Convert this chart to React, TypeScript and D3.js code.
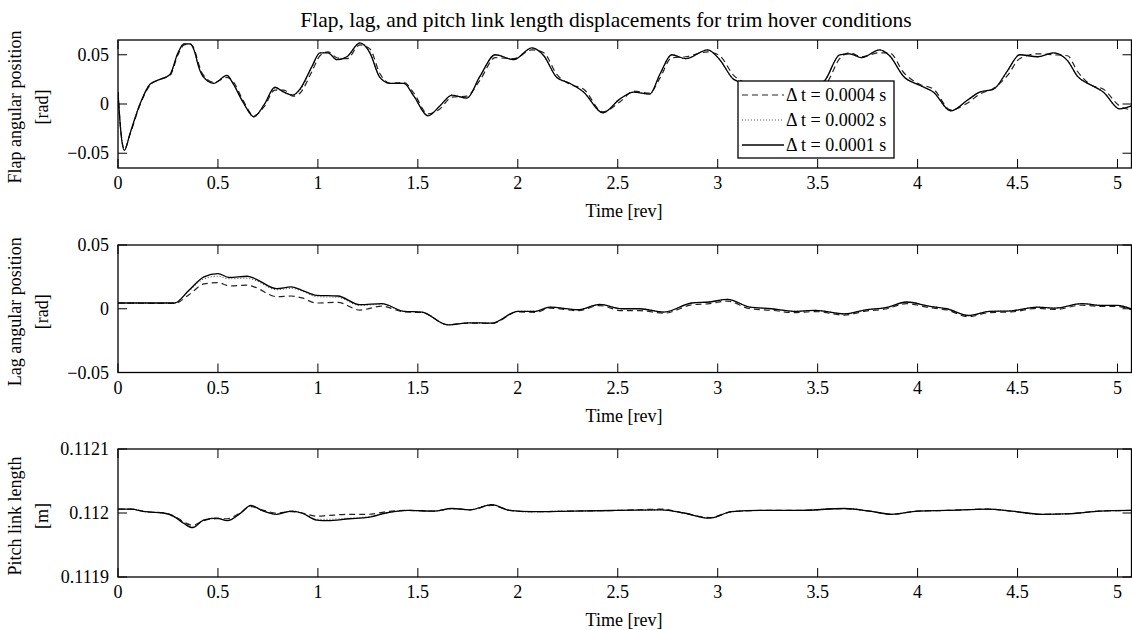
import React, { useRef, useEffect } from 'react';
import * as d3 from 'd3';

// time grids [rev]
const flapT = [0, 0.015, 0.032, 0.06, 0.11, 0.16, 0.21, 0.26, 0.3, 0.33, 0.36, 0.385, 0.4, 0.425, 0.48, 0.545, 0.575, 0.625, 0.68, 0.73, 0.785, 0.83, 0.875, 0.91, 0.97, 1.01, 1.05, 1.095, 1.145, 1.21, 1.26, 1.31, 1.36, 1.43, 1.48, 1.55, 1.61, 1.67, 1.745, 1.81, 1.887, 1.98, 2.07, 2.13, 2.195, 2.26, 2.33, 2.425, 2.51, 2.58, 2.66, 2.71, 2.77, 2.84, 2.95, 3.01, 3.08, 3.15, 3.22, 3.3, 3.38, 3.45, 3.54, 3.61, 3.66, 3.72, 3.81, 3.86, 3.93, 4.01, 4.08, 4.165, 4.25, 4.31, 4.38, 4.45, 4.51, 4.6, 4.68, 4.75, 4.8, 4.87, 4.93, 5.01, 5.07];
const flapDt4 = [0.012, -0.029, -0.046, -0.031, -0.001, 0.019, 0.025, 0.029, 0.05, 0.06, 0.061, 0.054, 0.043, 0.03, 0.022, 0.027, 0.023, 0.004, -0.012, -0.003, 0.014, 0.014, 0.008, 0.011, 0.033, 0.049, 0.053, 0.047, 0.046, 0.06, 0.056, 0.031, 0.021, 0.022, 0.011, -0.01, -0.005, 0.007, 0.008, 0.024, 0.047, 0.046, 0.055, 0.052, 0.03, 0.02, 0.015, -0.008, 0.002, 0.013, 0.011, 0.026, 0.047, 0.048, 0.053, 0.049, 0.029, 0.02, 0.014, -0.007, 0.003, 0.012, 0.02, 0.046, 0.052, 0.048, 0.052, 0.052, 0.032, 0.02, 0.015, -0.006, 0.001, 0.01, 0.016, 0.029, 0.046, 0.051, 0.05, 0.049, 0.033, 0.019, 0.015, -0.002, -0.006];
const flapDt2 = [0.012, -0.03, -0.047, -0.03, 0, 0.02, 0.025, 0.03, 0.052, 0.061, 0.061, 0.052, 0.041, 0.028, 0.021, 0.029, 0.021, 0.002, -0.013, -0.001, 0.016, 0.012, 0.009, 0.014, 0.037, 0.052, 0.052, 0.045, 0.048, 0.062, 0.053, 0.027, 0.021, 0.021, 0.008, -0.012, -0.002, 0.009, 0.006, 0.027, 0.05, 0.045, 0.057, 0.049, 0.027, 0.021, 0.012, -0.009, 0.005, 0.012, 0.01, 0.029, 0.05, 0.046, 0.055, 0.045, 0.025, 0.02, 0.012, -0.008, 0.006, 0.011, 0.025, 0.05, 0.051, 0.047, 0.055, 0.049, 0.028, 0.019, 0.012, -0.007, 0.004, 0.012, 0.015, 0.033, 0.05, 0.048, 0.052, 0.044, 0.028, 0.019, 0.012, -0.005, -0.002];
const flapDt1 = [0.012, -0.03, -0.047, -0.03, 0, 0.02, 0.025, 0.03, 0.052, 0.061, 0.061, 0.052, 0.04, 0.028, 0.021, 0.029, 0.021, 0.002, -0.013, -0.001, 0.017, 0.012, 0.009, 0.015, 0.038, 0.052, 0.052, 0.045, 0.048, 0.062, 0.052, 0.027, 0.021, 0.021, 0.008, -0.012, -0.002, 0.009, 0.006, 0.028, 0.05, 0.045, 0.057, 0.049, 0.027, 0.021, 0.012, -0.009, 0.005, 0.012, 0.01, 0.03, 0.05, 0.046, 0.055, 0.045, 0.025, 0.02, 0.012, -0.008, 0.006, 0.011, 0.025, 0.05, 0.051, 0.047, 0.055, 0.049, 0.028, 0.019, 0.012, -0.007, 0.004, 0.012, 0.015, 0.034, 0.05, 0.048, 0.052, 0.044, 0.028, 0.019, 0.012, -0.005, -0.002];

const lagT = [0, 0.283, 0.355, 0.43, 0.5, 0.556, 0.647, 0.684, 0.793, 0.866, 0.92, 0.994, 1.1, 1.21, 1.32, 1.43, 1.52, 1.65, 1.76, 1.87, 2.0, 2.09, 2.16, 2.3, 2.41, 2.52, 2.61, 2.73, 2.87, 2.96, 3.05, 3.16, 3.27, 3.38, 3.49, 3.635, 3.74, 3.84, 3.945, 4.055, 4.146, 4.255, 4.36, 4.47, 4.6, 4.69, 4.82, 4.93, 5.0, 5.07];
const lagDt4 = [0.0045, 0.0042, 0.011, 0.0195, 0.0205, 0.018, 0.0185, 0.017, 0.0095, 0.01, 0.0085, 0.0045, 0.005, -0.001, 0.002, -0.0025, -0.003, -0.0125, -0.0112, -0.0115, -0.0025, -0.0028, 0.0005, -0.0015, 0.0025, -0.0015, -0.0015, -0.0035, 0.003, 0.004, 0.006, 0, -0.0012, -0.003, -0.0022, -0.005, -0.0018, -0.0002, 0.004, 0.001, -0.001, -0.0062, -0.003, -0.0025, 0.0003, -0.0005, 0.0028, 0.0018, 0.0018, -0.0008];
const lagDt2 = [0.0045, 0.0045, 0.014, 0.0235, 0.0255, 0.0235, 0.024, 0.0225, 0.015, 0.016, 0.014, 0.0095, 0.009, 0.0025, 0.0035, -0.002, -0.0026, -0.0126, -0.011, -0.0113, -0.002, -0.002, 0.0013, -0.0008, 0.0034, 0, 0, -0.0026, 0.0045, 0.0053, 0.0074, 0.0013, 0, -0.002, -0.0013, -0.004, -0.0008, 0.0008, 0.0053, 0.0021, 0, -0.0053, -0.002, -0.0016, 0.0013, 0.0005, 0.004, 0.0026, 0.0026, -0.0003];
const lagDt1 = [0.0045, 0.0045, 0.0145, 0.025, 0.0276, 0.0245, 0.0255, 0.0237, 0.0158, 0.0171, 0.0145, 0.0105, 0.01, 0.0032, 0.004, -0.002, -0.0026, -0.0126, -0.011, -0.0113, -0.002, -0.002, 0.0013, -0.0008, 0.0034, 0, 0, -0.0026, 0.0045, 0.0053, 0.0074, 0.0013, 0, -0.002, -0.0013, -0.004, -0.0008, 0.0008, 0.0053, 0.0021, 0, -0.0053, -0.002, -0.0016, 0.0013, 0.0005, 0.004, 0.0026, 0.0026, -0.0003];

const pitchT = [0, 0.064, 0.137, 0.228, 0.283, 0.328, 0.374, 0.428, 0.492, 0.547, 0.61, 0.665, 0.72, 0.793, 0.866, 0.92, 0.994, 1.048, 1.158, 1.25, 1.34, 1.45, 1.58, 1.67, 1.76, 1.87, 1.96, 2.07, 2.27, 2.49, 2.72, 2.83, 2.96, 3.07, 3.215, 3.4, 3.635, 3.76, 3.87, 4.0, 4.146, 4.35, 4.47, 4.62, 4.77, 4.91, 5.07];
const pitchDt4 = [0.112006, 0.112006, 0.112002, 0.112, 0.111995, 0.111986, 0.111981, 0.111988, 0.111991, 0.111991, 0.112, 0.11201, 0.112005, 0.112, 0.112002, 0.112, 0.111995, 0.111996, 0.111998, 0.111998, 0.112002, 0.112004, 0.112003, 0.112007, 0.112005, 0.112012, 0.112004, 0.112002, 0.112003, 0.112004, 0.112006, 0.112, 0.111993, 0.112002, 0.112004, 0.112004, 0.112007, 0.112003, 0.111998, 0.112003, 0.112004, 0.112006, 0.112003, 0.111998, 0.111999, 0.112003, 0.112004];
const pitchDt2 = [0.112006, 0.112006, 0.112002, 0.112, 0.111994, 0.111985, 0.111979, 0.111989, 0.111992, 0.111989, 0.111999, 0.112011, 0.112004, 0.111998, 0.112003, 0.112, 0.11199, 0.11199, 0.111992, 0.111994, 0.112, 0.112004, 0.112003, 0.112007, 0.112005, 0.112013, 0.112004, 0.112002, 0.112003, 0.112004, 0.112005, 0.112, 0.111992, 0.112002, 0.112004, 0.112004, 0.112007, 0.112003, 0.111998, 0.112003, 0.112004, 0.112006, 0.112003, 0.111998, 0.111999, 0.112003, 0.112004];
const pitchDt1 = [0.112006, 0.112006, 0.112002, 0.112, 0.111994, 0.111984, 0.111977, 0.111989, 0.111992, 0.111988, 0.111999, 0.112012, 0.112004, 0.111998, 0.112003, 0.112, 0.111989, 0.111988, 0.111991, 0.111993, 0.112, 0.112004, 0.112003, 0.112007, 0.112005, 0.112013, 0.112004, 0.112002, 0.112003, 0.112004, 0.112005, 0.112, 0.111992, 0.112002, 0.112004, 0.112004, 0.112007, 0.112003, 0.111998, 0.112003, 0.112004, 0.112006, 0.112003, 0.111998, 0.111999, 0.112003, 0.112004];

const xTicks = [0, 0.5, 1, 1.5, 2, 2.5, 3, 3.5, 4, 4.5, 5];
const seriesNames = ['\u0394 t = 0.0004 s', '\u0394 t = 0.0002 s', '\u0394 t = 0.0001 s'];

const flapTicks = [-0.05, 0, 0.05];
const flapTickLabels = ['\u22120.05', '0', '0.05'];
const lagTicks = [-0.05, 0, 0.05];
const lagTickLabels = ['\u22120.05', '0', '0.05'];
const pitchTicks = [0.1119, 0.112, 0.1121];
const pitchTickLabels = ['0.1119', '0.112', '0.1121'];

const FONT = '"Liberation Serif", "Times New Roman", serif';
const W = 1132;
const H = 630;

const App = () => {
  const ref = useRef(null);

  useEffect(() => {
    const svg = d3.select(ref.current);
    svg.selectAll('*').remove();

    const left = 118;
    const right = 1131.5;
    const x = d3.scaleLinear().domain([0, 5.07]).range([left, right]);

    const styles = [
      { dash: '6,4', color: '#222', width: 1.2 },
      { dash: '1,2', color: '#555', width: 1.1 },
      { dash: null, color: '#000', width: 1.3 },
    ];

    const panels = [
      { top: 40, bottom: 168, domain: [-0.065, 0.065], ticks: flapTicks, labels: flapTickLabels, t: flapT, series: [flapDt4, flapDt2, flapDt1], ylab: ['Flap angular position', '[rad]'] },
      { top: 245, bottom: 372.5, domain: [-0.05, 0.05], ticks: lagTicks, labels: lagTickLabels, t: lagT, series: [lagDt4, lagDt2, lagDt1], ylab: ['Lag angular position', '[rad]'] },
      { top: 449, bottom: 577, domain: [0.1119, 0.1121], ticks: pitchTicks, labels: pitchTickLabels, t: pitchT, series: [pitchDt4, pitchDt2, pitchDt1], ylab: ['Pitch link length', '[m]'] },
    ];

    svg.append('text')
      .attr('x', 606).attr('y', 26.5)
      .attr('text-anchor', 'middle')
      .style('font-family', FONT).style('font-size', '21.5px')
      .text('Flap, lag, and pitch link length displacements for trim hover conditions');

    panels.forEach((p, i) => {
      const y = d3.scaleLinear().domain(p.domain).range([p.bottom, p.top]);
      const g = svg.append('g');

      const clipId = `clip${i}`;
      svg.append('clipPath').attr('id', clipId)
        .append('rect')
        .attr('x', left).attr('y', p.top)
        .attr('width', right - left).attr('height', p.bottom - p.top);

      const line = d3.line<number>()
        .x((_, k) => x(p.t[k]))
        .y(d => y(d))
        .curve(d3.curveMonotoneX);

      const lines = g.append('g').attr('clip-path', `url(#${clipId})`);
      p.series.forEach((vals, s) => {
        lines.append('path')
          .datum(vals)
          .attr('d', line)
          .attr('fill', 'none')
          .attr('stroke', styles[s].color)
          .attr('stroke-width', styles[s].width)
          .attr('stroke-dasharray', styles[s].dash);
      });

      // axes box
      g.append('rect')
        .attr('x', left).attr('y', p.top)
        .attr('width', right - left).attr('height', p.bottom - p.top)
        .attr('fill', 'none').attr('stroke', '#000').attr('stroke-width', 1.3);

      const tk = 9;
      xTicks.forEach(v => {
        g.append('line').attr('x1', x(v)).attr('x2', x(v)).attr('y1', p.bottom).attr('y2', p.bottom - tk).attr('stroke', '#000').attr('stroke-width', 1);
        g.append('line').attr('x1', x(v)).attr('x2', x(v)).attr('y1', p.top).attr('y2', p.top + tk).attr('stroke', '#000').attr('stroke-width', 1);
        g.append('text')
          .attr('x', x(v)).attr('y', p.bottom + 21)
          .attr('text-anchor', 'middle')
          .style('font-family', FONT).style('font-size', '18px')
          .text(String(v));
      });
      p.ticks.forEach((v, k) => {
        g.append('line').attr('x1', left).attr('x2', left + tk).attr('y1', y(v)).attr('y2', y(v)).attr('stroke', '#000').attr('stroke-width', 1);
        g.append('line').attr('x1', right).attr('x2', right - tk).attr('y1', y(v)).attr('y2', y(v)).attr('stroke', '#000').attr('stroke-width', 1);
        g.append('text')
          .attr('x', left - 9).attr('y', y(v) + 6)
          .attr('text-anchor', 'end')
          .style('font-family', FONT).style('font-size', '18px')
          .text(p.labels[k]);
      });

      g.append('text')
        .attr('x', 624).attr('y', p.bottom + 49)
        .attr('text-anchor', 'middle')
        .style('font-family', FONT).style('font-size', '18px')
        .text('Time [rev]');

      const cy = (p.top + p.bottom) / 2 + 3;
      p.ylab.forEach((txt, k) => {
        g.append('text')
          .attr('transform', `translate(${21 + k * 27}, ${cy}) rotate(-90)`)
          .attr('text-anchor', 'middle')
          .style('font-family', FONT).style('font-size', '18px')
          .text(txt);
      });
    });

    // legend on top panel
    const lg = svg.append('g').attr('transform', 'translate(738, 81)');
    lg.append('rect').attr('width', 156).attr('height', 77)
      .attr('fill', '#fff').attr('stroke', '#000').attr('stroke-width', 1.3);
    seriesNames.forEach((name, s) => {
      const yy = 14 + s * 25;
      lg.append('line').attr('x1', 4).attr('x2', 46).attr('y1', yy).attr('y2', yy)
        .attr('stroke', styles[s].color).attr('stroke-width', styles[s].width)
        .attr('stroke-dasharray', styles[s].dash);
      lg.append('text').attr('x', 48).attr('y', yy + 6)
        .style('font-family', FONT).style('font-size', '18px')
        .text(name);
    });
  }, []);

  return (
    <svg ref={ref} width={W} height={H} style={{ position: 'absolute', left: 0, top: 0, background: '#fff' }} />
  );
};

export default App;
